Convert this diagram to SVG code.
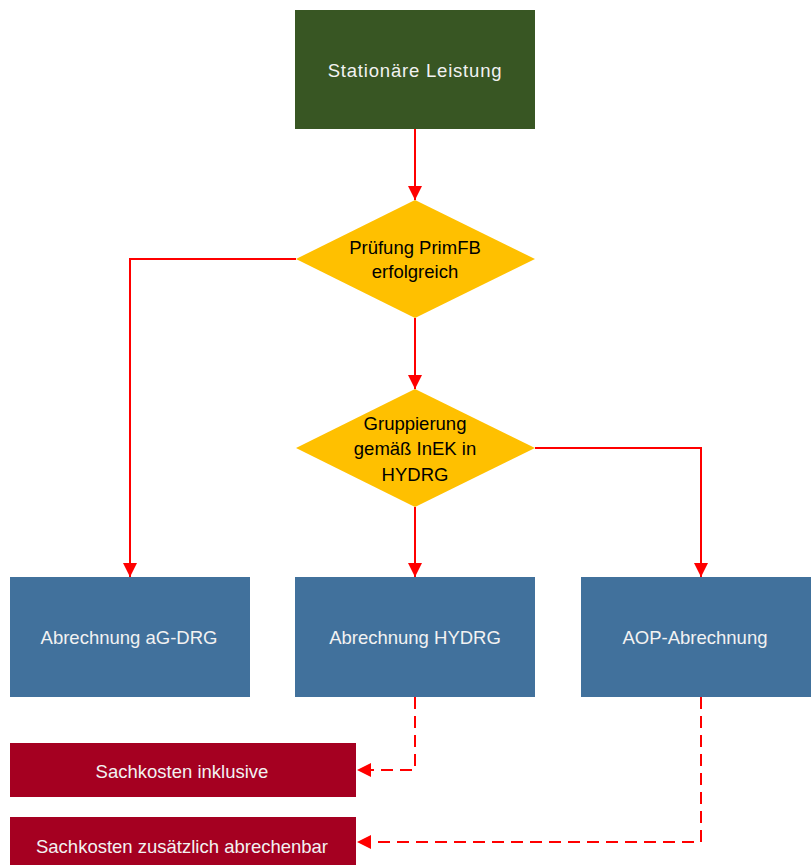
<svg xmlns="http://www.w3.org/2000/svg" width="811" height="865" viewBox="0 0 811 865">
<defs>
<marker id="ah" viewBox="0 0 10 10" refX="10" refY="5" markerWidth="14" markerHeight="14" markerUnits="userSpaceOnUse" orient="auto">
<path d="M0,0 L10,5 L0,10 z" fill="#FF0000"/>
</marker>
<style>
.lbl{font-family:"Liberation Sans",Arial,sans-serif;font-size:18.5px;text-anchor:middle;dominant-baseline:central}
.w{fill:#F2F2F2}
.k{fill:#000000}
.con{fill:none;stroke:#FF0000;stroke-width:2}
.dash{stroke-dasharray:12,7}
</style>
</defs>
<rect width="811" height="865" fill="#FFFFFF"/>
<g id="connectors">
<path class="con" d="M415,129 V200" marker-end="url(#ah)"/>
<path class="con" d="M296,259 H130 V577" marker-end="url(#ah)"/>
<path class="con" d="M415,318 V389" marker-end="url(#ah)"/>
<path class="con" d="M415,507 V577" marker-end="url(#ah)"/>
<path class="con" d="M535,448 H701 V577" marker-end="url(#ah)"/>
<path class="con dash" d="M415,697 V770 H357" marker-end="url(#ah)"/>
<path class="con dash" d="M701,697 V842 H357" marker-end="url(#ah)"/>
</g>
<g id="n1"><rect x="295" y="10" width="240" height="119" fill="#385623"/><text class="lbl w" x="415" y="70" style="letter-spacing:0.8px">Stationäre Leistung</text></g>
<g id="n2"><polygon points="415,200 535,259 415,318 296,259" fill="#FFC000"/><text class="lbl k" x="415" y="247">Prüfung PrimFB</text><text class="lbl k" x="415" y="271">erfolgreich</text></g>
<g id="n3"><polygon points="415,389 535,448 415,507 296,448" fill="#FFC000"/><text class="lbl k" x="415" y="423">Gruppierung</text><text class="lbl k" x="415" y="448">gemäß InEK in</text><text class="lbl k" x="415" y="474">HYDRG</text></g>
<g id="n4"><rect x="10" y="577" width="240" height="120" fill="#41719C"/><text class="lbl w" x="129" y="637">Abrechnung aG-DRG</text></g>
<g id="n5"><rect x="295" y="577" width="240" height="120" fill="#41719C"/><text class="lbl w" x="415" y="637">Abrechnung HYDRG</text></g>
<g id="n6"><rect x="581" y="577" width="230" height="120" fill="#41719C"/><text class="lbl w" x="695" y="637">AOP-Abrechnung</text></g>
<g id="n7"><rect x="10" y="743" width="346" height="54" fill="#A50021"/><text class="lbl w" x="182" y="771">Sachkosten inklusive</text></g>
<g id="n8"><rect x="10" y="817" width="346" height="48" fill="#A50021"/><text class="lbl w" x="182" y="846">Sachkosten zusätzlich abrechenbar</text></g>
</svg>
